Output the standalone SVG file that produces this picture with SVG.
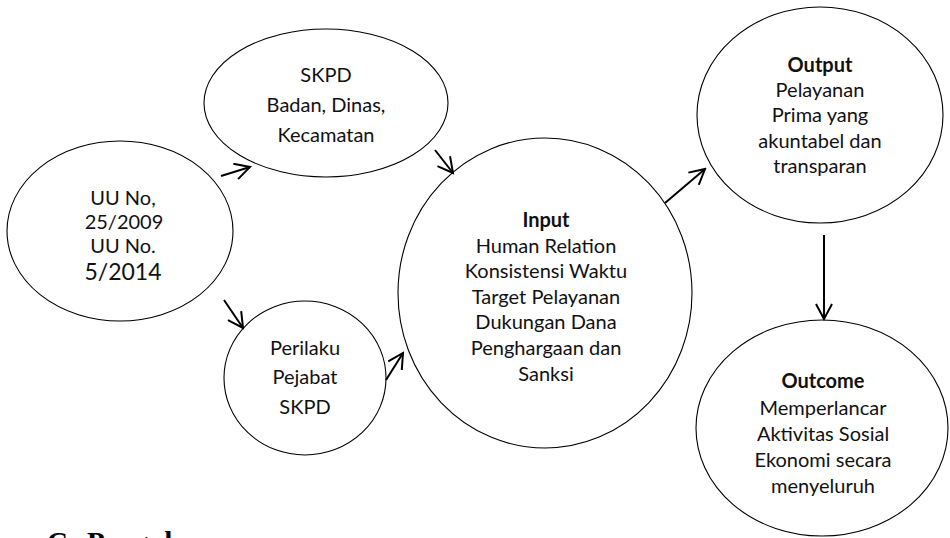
<svg xmlns="http://www.w3.org/2000/svg" width="950" height="538" viewBox="0 0 950 538">
<style>
.n{fill:none;stroke:#000;stroke-width:1.1}
.t{font-family:Lato,"Liberation Sans",sans-serif;font-size:20px;fill:#111;text-anchor:middle}
.b{font-weight:bold}
.c{fill:none;stroke:#000;stroke-width:2}
.h{font-family:"Liberation Serif",serif;font-weight:bold;font-size:29px;fill:#000}
</style>
<defs>
<marker id="ah" viewBox="0 0 18 18" markerWidth="18" markerHeight="18" refX="16" refY="9" orient="auto" markerUnits="userSpaceOnUse">
<path d="M1,1 L16,9 L1,17" fill="none" stroke="#000" stroke-width="2"/>
</marker>
</defs>
<rect width="950" height="538" fill="#fff"/>
<g id="connectors">
<path class="c" d="M221,176 L250,167" marker-end="url(#ah)"/>
<path class="c" d="M224,300 L243,328" marker-end="url(#ah)"/>
<path class="c" d="M435,150 L453,173" marker-end="url(#ah)"/>
<path class="c" d="M386,380 L403,353" marker-end="url(#ah)"/>
<path class="c" d="M665,203 L705,169" marker-end="url(#ah)"/>
<path class="c" d="M824,235 L824,319" marker-end="url(#ah)"/>
</g>
<g id="uu">
<ellipse class="n" cx="120" cy="231" rx="113" ry="90"/>
<text class="t" x="123" y="205">UU No,</text>
<text class="t" x="124" y="229">25/2009</text>
<text class="t" x="123" y="253">UU No.</text>
<text class="t" x="123" y="280" style="font-size:23px">5/2014</text>
</g>
<g id="skpd">
<ellipse class="n" cx="326" cy="103" rx="122" ry="74"/>
<text class="t" x="326" y="82">SKPD</text>
<text class="t" x="326" y="112">Badan, Dinas,</text>
<text class="t" x="326" y="142">Kecamatan</text>
</g>
<g id="perilaku">
<ellipse class="n" cx="305" cy="378" rx="81" ry="77"/>
<text class="t" x="305" y="355">Perilaku</text>
<text class="t" x="305" y="384">Pejabat</text>
<text class="t" x="305" y="414">SKPD</text>
</g>
<g id="input">
<ellipse class="n" cx="545" cy="293" rx="147" ry="155"/>
<text class="t b" x="546" y="227">Input</text>
<text class="t" x="546" y="253">Human Relation</text>
<text class="t" x="546" y="278">Konsistensi Waktu</text>
<text class="t" x="546" y="304">Target Pelayanan</text>
<text class="t" x="546" y="329">Dukungan Dana</text>
<text class="t" x="546" y="355">Penghargaan dan</text>
<text class="t" x="546" y="381">Sanksi</text>
</g>
<g id="output">
<ellipse class="n" cx="820" cy="115" rx="123" ry="108"/>
<text class="t b" x="820" y="72">Output</text>
<text class="t" x="820" y="97">Pelayanan</text>
<text class="t" x="820" y="122">Prima yang</text>
<text class="t" x="820" y="148">akuntabel dan</text>
<text class="t" x="820" y="173">transparan</text>
</g>
<g id="outcome">
<ellipse class="n" cx="822" cy="428" rx="126" ry="108"/>
<text class="t b" x="823" y="388">Outcome</text>
<text class="t" x="823" y="415">Memperlancar</text>
<text class="t" x="823" y="441">Aktivitas Sosial</text>
<text class="t" x="823" y="467">Ekonomi secara</text>
<text class="t" x="823" y="493">menyeluruh</text>
</g>
<text class="h" x="47" y="552">C.</text>
<text class="h" x="87" y="552">Pengukuran</text>
</svg>
